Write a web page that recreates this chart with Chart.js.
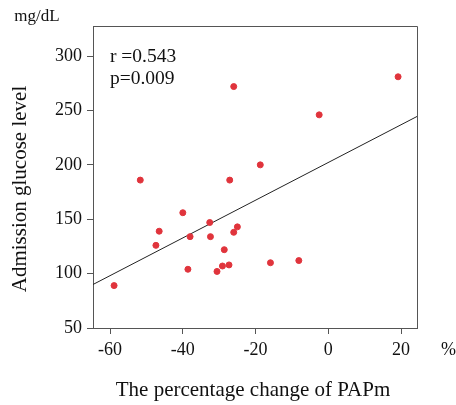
<!DOCTYPE html>
<html>
<head>
<meta charset="utf-8">
<script src="https://cdn.jsdelivr.net/npm/chart.js@4/dist/chart.umd.min.js"></script>
<style>
  html, body { margin: 0; padding: 0; background: #fff; }
</style>
</head>
<body>
<canvas id="glucose" width="456" height="405"></canvas>
<script>
// Data
var pctChange = [-26.0, -51.7, -27.1, -18.7, -58.9, -40.0, -46.5, -47.4, -38.0, -38.6, -32.6,
                 -32.4, -30.6, -29.1, -28.6, -27.3, -26.0, -25.0, -15.9, 19.2, -2.5, -8.1];
var glucose = [272, 186, 186, 200, 89, 156, 139, 126, 134, 104, 147,
               134, 102, 107, 122, 108, 138, 143, 110, 281, 246, 112];
var fitX = [-64.7, 24.4];
var fitY = [90, 244.5];
var xTicks = [-60, -40, -20, 0, 20];
var yTicks = [50, 100, 150, 200, 250, 300];
var stats = ["r =0.543", "p=0.009"];

var serif = "'Liberation Serif', 'Times New Roman', serif";

var points = pctChange.map(function (x, i) { return { x: x, y: glucose[i] }; });
var fitLine = fitX.map(function (x, i) { return { x: x, y: fitY[i] }; });

// extra text + box around the plot
var extras = {
    id: "extras",
    afterDraw: function (chart) {
        var ctx = chart.ctx, a = chart.chartArea;
        ctx.save();
        ctx.strokeStyle = "#555";
        ctx.lineWidth = 1;
        ctx.beginPath();
        ctx.moveTo(a.left, a.top + 0.5);
        ctx.lineTo(a.right + 0.5, a.top + 0.5);
        ctx.lineTo(a.right + 0.5, a.bottom);
        ctx.stroke();

        ctx.fillStyle = "#111";
        ctx.textBaseline = "middle";
        ctx.font = "19.5px " + serif;
        ctx.textAlign = "left";
        ctx.fillText(stats[0], 110, 57);
        ctx.fillText(stats[1], 110, 79);

        ctx.font = "18px " + serif;
        ctx.fillText("%", 441, 350);
        ctx.textAlign = "center";
        ctx.font = "17px " + serif;
        ctx.fillText("mg/dL", 37, 17);

        ctx.font = "21px " + serif;
        ctx.fillText("The percentage change of PAPm", 253, 390);

        ctx.translate(20, 189);
        ctx.rotate(-Math.PI / 2);
        ctx.fillText("Admission glucose level", 0, 0);
        ctx.restore();
    }
};

var chart = new Chart(document.getElementById("glucose"), {
    type: "scatter",
    data: {
        datasets: [{
            label: "patients",
            data: points,
            backgroundColor: "#e0343c",
            borderColor: "#e0343c",
            pointRadius: 3,
            pointHoverRadius: 3
        }, {
            label: "fit",
            data: fitLine,
            showLine: true,
            borderColor: "#222",
            borderWidth: 1,
            pointRadius: 0
        }]
    },
    options: {
        responsive: false,
        animation: false,
        events: [],
        layout: { padding: { left: 0, top: 26, right: 39, bottom: 0 } },
        plugins: { legend: { display: false }, tooltip: { enabled: false } },
        scales: {
            x: {
                type: "linear",
                min: fitX[0],
                max: fitX[1],
                afterBuildTicks: function (s) { s.ticks = xTicks.map(function (v) { return { value: v }; }); },
                afterFit: function (s) { s.height = 77; },
                grid: { drawOnChartArea: false, drawTicks: true, tickLength: 6, color: "#555" },
                border: { color: "#555" },
                ticks: { color: "#111", padding: 5, maxRotation: 0, font: { family: serif, size: 18 } }
            },
            y: {
                min: 50,
                max: 327.7,
                afterBuildTicks: function (s) { s.ticks = yTicks.map(function (v) { return { value: v }; }); },
                afterFit: function (s) { s.width = 93; },
                grid: { drawOnChartArea: false, drawTicks: true, tickLength: 6, color: "#555" },
                border: { color: "#555" },
                ticks: { color: "#111", padding: 5, font: { family: serif, size: 18 } }
            }
        }
    },
    plugins: [extras]
});
</script>
</body>
</html>
